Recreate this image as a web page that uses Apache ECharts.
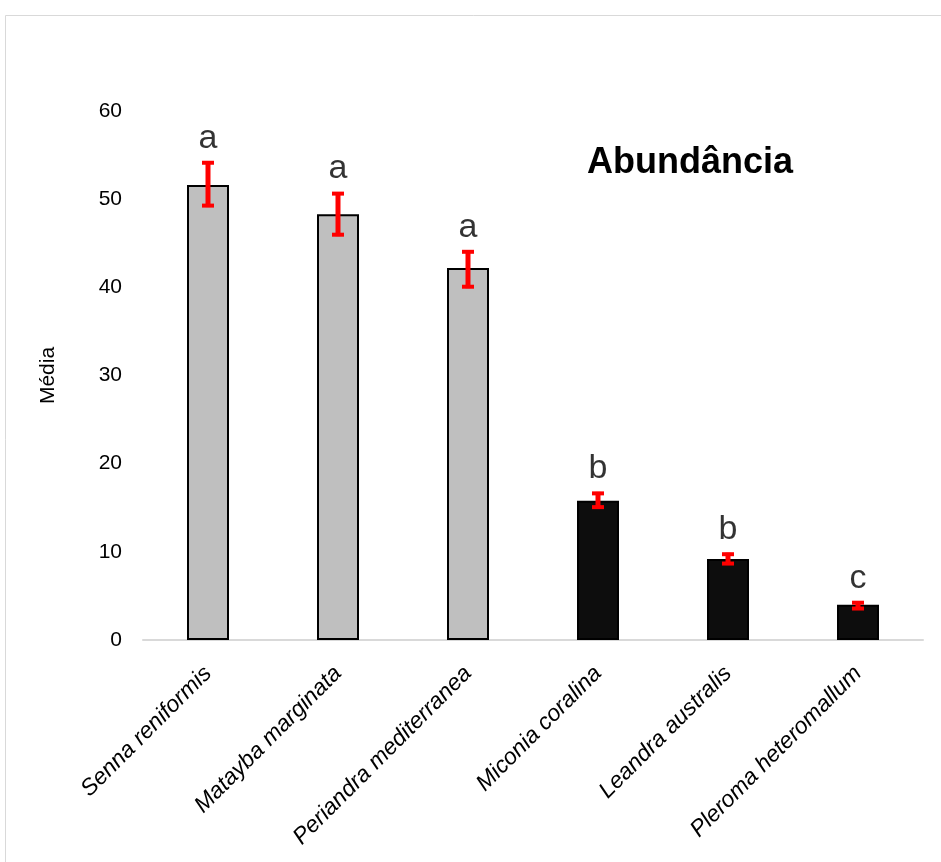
<!DOCTYPE html>
<html>
<head>
    <meta charset="utf-8">
    <title>Abundância</title>
    <script src="https://cdn.jsdelivr.net/npm/echarts@6/dist/echarts.min.js"></script>
    <style>
        * { padding: 0; margin: 0; }
        body { background: #fff; }
    </style>
</head>
<body>
    <div id="main" style="width:941px;height:862px;"></div>
    <script type="text/javascript">
        // dados
        var especies = ['Senna reniformis', 'Matayba marginata', 'Periandra mediterranea',
            'Miconia coralina', 'Leandra australis', 'Pleroma heteromallum'];
        var medias = [51.6, 48.3, 42.2, 15.8, 9.2, 4.0];
        var erroSup = [54.3, 50.8, 44.2, 16.8, 9.9, 4.4];
        var erroInf = [49.1, 45.8, 39.9, 14.9, 8.5, 3.4];
        var letras = ['a', 'a', 'a', 'b', 'b', 'c'];
        var cores = ['#bfbfbf', '#bfbfbf', '#bfbfbf', '#0d0d0d', '#0d0d0d', '#0d0d0d'];

        var myChart = echarts.init(document.getElementById('main'));
        var fonte = 'Liberation Sans, Arial, sans-serif';

        var option = {
            backgroundColor: '#fff',
            animation: false,
            title: {
                text: 'Abundância',
                left: 582,
                top: 140,
                textStyle: { fontFamily: fonte, fontSize: 36, fontWeight: 'bold', color: '#000' }
            },
            graphic: [{
                type: 'rect',
                shape: { x: 5.5, y: 15.5, width: 960, height: 900 },
                style: { fill: 'none', stroke: '#d9d9d9', lineWidth: 1 },
                silent: true
            }],
            grid: { left: 143, right: 18, top: 111, bottom: 222, containLabel: false },
            xAxis: {
                type: 'category',
                data: especies,
                axisLine: { lineStyle: { color: '#d9d9d9', width: 2 } },
                axisTick: { show: false },
                axisLabel: {
                    rotate: 45,
                    interval: 0,
                    margin: 30,
                    fontFamily: fonte,
                    fontSize: 23,
                    fontStyle: 'italic',
                    color: '#000'
                }
            },
            yAxis: {
                type: 'value',
                min: 0,
                max: 60,
                interval: 10,
                name: 'Média',
                nameLocation: 'middle',
                nameGap: 84,
                nameTextStyle: { fontFamily: fonte, fontSize: 21, color: '#000' },
                axisLine: { show: false },
                axisTick: { show: false },
                splitLine: { show: false },
                axisLabel: { fontFamily: fonte, fontSize: 21, color: '#000', margin: 21 }
            },
            series: [{
                type: 'bar',
                barWidth: 42,
                data: medias.map(function (v, i) {
                    return {
                        value: v,
                        itemStyle: { color: cores[i], borderColor: '#000', borderWidth: 2 }
                    };
                })
            }, {
                type: 'custom',
                data: especies.map(function (e, i) { return [i, erroInf[i], erroSup[i]]; }),
                renderItem: function (params, api) {
                    var lo = api.coord([api.value(0), api.value(1)]);
                    var hi = api.coord([api.value(0), api.value(2)]);
                    var x = Math.round(lo[0]);
                    var cap = 6;
                    var st = { stroke: '#ff0000', lineWidth: 5 };
                    return {
                        type: 'group',
                        children: [
                            { type: 'line', shape: { x1: x, y1: hi[1], x2: x, y2: lo[1] }, style: st },
                            { type: 'line', shape: { x1: x - cap, y1: hi[1] + 1.5, x2: x + cap, y2: hi[1] + 1.5 }, style: { stroke: '#ff0000', lineWidth: 4 } },
                            { type: 'line', shape: { x1: x - cap, y1: lo[1] - 1.5, x2: x + cap, y2: lo[1] - 1.5 }, style: { stroke: '#ff0000', lineWidth: 4 } }
                        ]
                    };
                },
                z: 5
            }, {
                type: 'scatter',
                symbolSize: 0,
                data: erroSup,
                label: {
                    show: true,
                    position: 'top',
                    distance: 6,
                    formatter: function (p) { return letras[p.dataIndex]; },
                    fontFamily: fonte,
                    fontSize: 34,
                    color: '#000'
                }
            }]
        };
        myChart.setOption(option);
    </script>
</body>
</html>
